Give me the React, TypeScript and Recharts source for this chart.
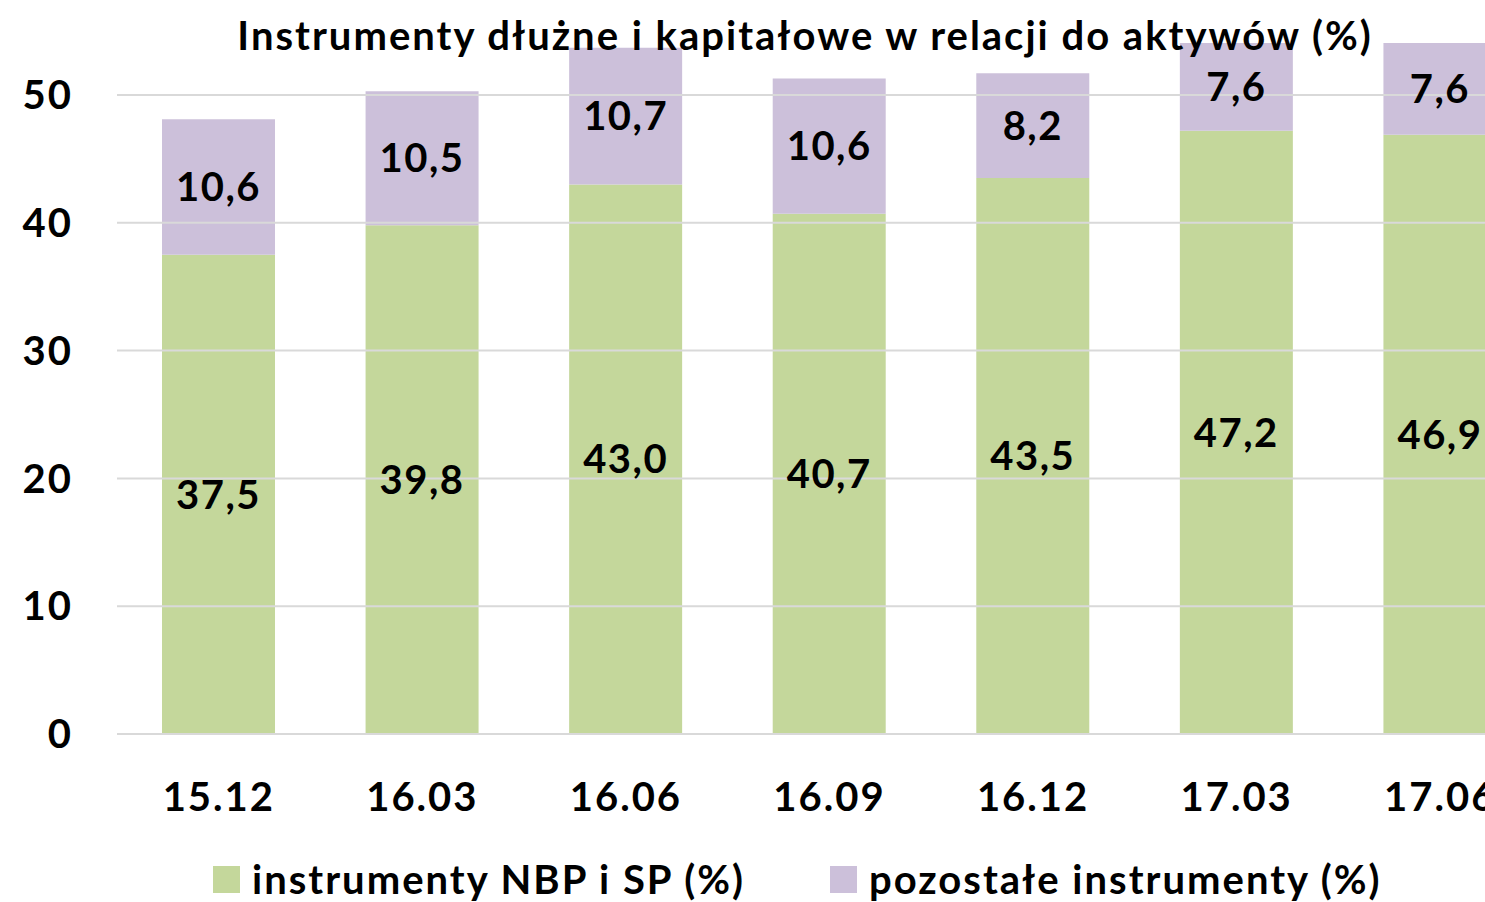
import React from "react"
import { BarChart, Bar, XAxis, YAxis, ReferenceLine, LabelList } from "recharts"

const categories = ["15.12", "16.03", "16.06", "16.09", "16.12", "17.03", "17.06"]
const nbpSp = [37.5, 39.8, 43.0, 40.7, 43.5, 47.2, 46.9]
const pozostale = [10.6, 10.5, 10.7, 10.6, 8.2, 7.6, 7.6]
const yTicks = [0, 10, 20, 30, 40, 50]

const seriesNames = ["instrumenty NBP i SP (%)", "pozostałe instrumenty (%)"]
const title = "Instrumenty dłużne i kapitałowe w relacji do aktywów (%)"

const GREEN = "#C4D79B"
const PURPLE = "#CCC0DA"
const FONT = "Lato, 'Open Sans', sans-serif"

const data = categories.map((c, i) => ({ name: c, nbp: nbpSp[i], other: pozostale[i] }))

const fmt = (v: any) => Number(v).toFixed(1).replace(".", ",")

const labelStyle = { fill: "#000", fontSize: 40, fontWeight: 700, fontFamily: FONT, letterSpacing: 1.5 }
const tickStyle = { fill: "#000", fontSize: 40, fontWeight: 700, fontFamily: FONT, letterSpacing: 2 }

export default function App() {
  return (
    <div style={{ position: "fixed", left: 0, top: 0, width: 1485, height: 902, overflow: "hidden", background: "#fff" }}>
      <BarChart
        width={1560}
        height={902}
        data={data}
        margin={{ top: 43, right: 18, bottom: 0, left: 0 }}
        barSize={113}
      >
        {/* gridlines only at the labelled values */}
        {yTicks.map((t) => (
          <ReferenceLine key={t} y={t} stroke="#D9D9D9" strokeWidth={2} />
        ))}
        <XAxis
          dataKey="name"
          height={168}
          axisLine={{ stroke: "#D9D9D9", strokeWidth: 2 }}
          tickLine={false}
          tickSize={0}
          tickMargin={49}
          tick={tickStyle}
        />
        <YAxis
          width={117}
          domain={[0, 54.07]}
          ticks={yTicks}
          allowDataOverflow
          axisLine={false}
          tickLine={false}
          tickSize={0}
          tickMargin={44}
          tick={tickStyle}
        />
        <Bar dataKey="nbp" stackId="a" fill={GREEN} isAnimationActive={false}>
          <LabelList dataKey="nbp" position="center" formatter={fmt} style={labelStyle} />
        </Bar>
        <Bar dataKey="other" stackId="a" fill={PURPLE} isAnimationActive={false}>
          <LabelList dataKey="other" position="center" formatter={fmt} style={labelStyle} />
        </Bar>
      </BarChart>
      <svg
        width={1485}
        height={902}
        style={{ position: "absolute", left: 0, top: 0, pointerEvents: "none" }}
      >
        <g fontSize={40} fontWeight={700} fontFamily={FONT} fill="#000" letterSpacing={2}>
          <text x={805} y={50} textAnchor="middle">
            {title}
          </text>
          <rect x={213} y={866} width={27} height={27} fill={GREEN} />
          <text x={252} y={894}>{seriesNames[0]}</text>
          <rect x={830} y={866} width={27} height={27} fill={PURPLE} />
          <text x={869} y={894}>{seriesNames[1]}</text>
        </g>
      </svg>
    </div>
  )
}
